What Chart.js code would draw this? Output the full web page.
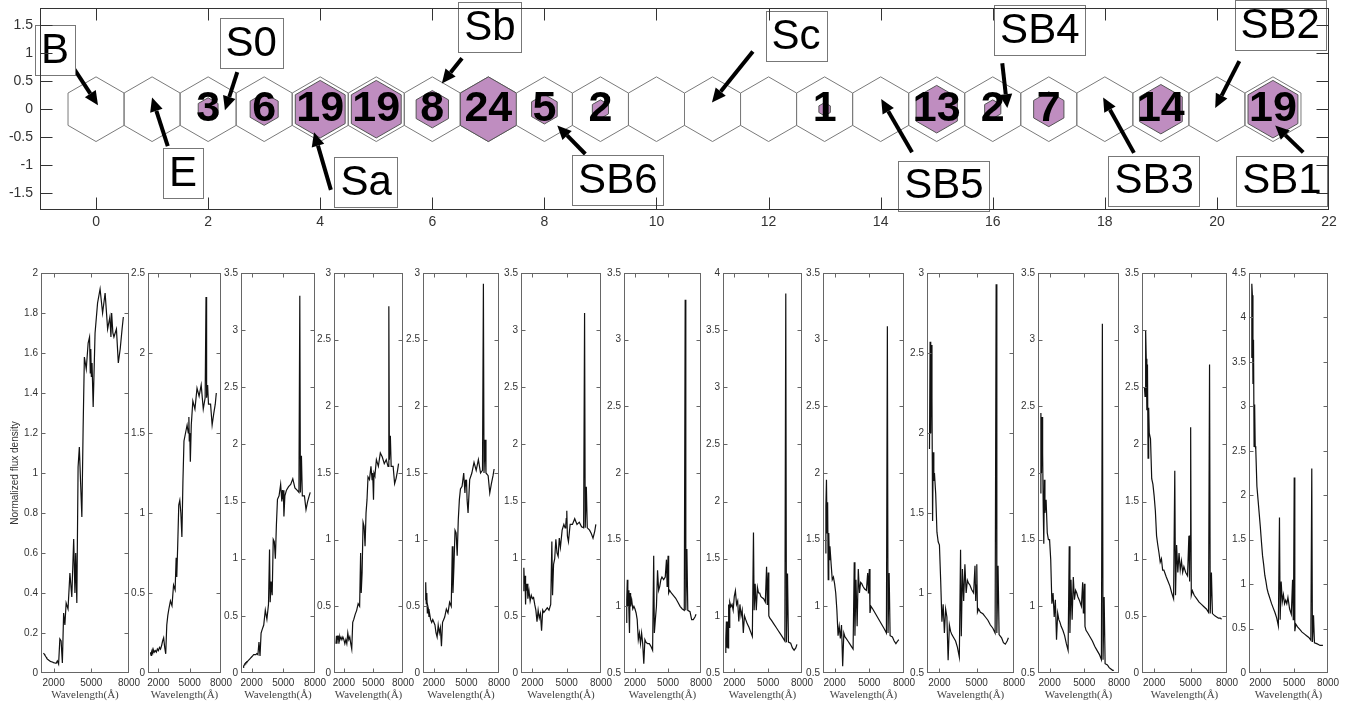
<!DOCTYPE html>
<html>
<head>
<meta charset="utf-8">
<script src="https://cdn.jsdelivr.net/npm/chart.js@4.4.0/dist/chart.umd.min.js"></script>
<style>
  body { margin: 0; background: #fff; width: 1353px; height: 704px; overflow: hidden; position: relative; }
  canvas { position: absolute; }
</style>
</head>
<body>
<canvas id="hexChart" width="1353" height="247" style="left:0;top:-7px"></canvas>
<script>
// ---- top panel: hexagon map ----
const hexX = [0, 1, 2, 3, 4, 5, 6, 7, 8, 9, 10, 11, 12, 13, 14, 15, 16, 17, 18, 19, 20, 21];
const hexCount = [0, 0, 3, 6, 19, 19, 8, 24, 5, 2, 0, 0, 0, 1, 0, 13, 2, 7, 0, 14, 0, 19];
const topXTicks = [0, 2, 4, 6, 8, 10, 12, 14, 16, 18, 20, 22];
const topYTicks = [-1.5, -1, -0.5, 0, 0.5, 1, 1.5];

// morphology labels (text centre, arrow tail, arrow head) in data units
const typeNames = ['B', 'E', 'S0', 'Sa', 'Sb', 'Sc', 'SB6', 'SB5', 'SB4', 'SB3', 'SB2', 'SB1'];
const typeTextX = [-0.73, 1.55, 2.77, 4.82, 7.03, 12.49, 9.31, 15.13, 16.84, 18.88, 21.13, 21.16];
const typeTextY = [1.05, -1.14, 1.18, -1.30, 1.46, 1.30, -1.27, -1.37, 1.41, -1.28, 1.50, -1.28];
const arrowTailX = [-0.43, 1.28, 2.52, 4.19, 6.53, 11.72, 8.73, 14.56, 16.17, 18.52, 20.40, 21.54];
const arrowTailY = [0.78, -0.66, 0.66, -1.44, 0.91, 1.03, -0.80, -0.77, 0.82, -0.78, 0.86, -0.77];
const arrowHeadX = [0.035, 1.0, 2.30, 3.89, 6.17, 10.99, 8.23, 14.01, 16.26, 17.97, 19.97, 21.04];
const arrowHeadY = [0.07, 0.21, -0.02, -0.41, 0.46, 0.12, -0.29, 0.18, 0.02, 0.21, 0.02, -0.29];

// ---- bottom panels: mean spectra ----
const wave = [1200, 1250, 1300, 1350, 1400, 1450, 1500, 1550, 1600, 1700,
  1800, 1900, 2000, 2100, 2200, 2300, 2400, 2500, 2600, 2700,
  2800, 2900, 3000, 3150, 3300, 3450, 3600, 3700, 3760, 3850,
  3950, 4050, 4150, 4250, 4350, 4450, 4600, 4750, 4861, 4920,
  4959, 5007, 5060, 5150, 5300, 5500, 5700, 5900, 6100, 6300,
  6480, 6563, 6620, 6717, 6800, 7000, 7150, 7300, 7450, 7550];

const spec1 = [0.1, 0.095, 0.09, 0.085, 0.08, 0.075, 0.07, 0.068, 0.065, 0.06,
  0.057, 0.055, 0.052, 0.05, 0.048, 0.06, 0.045, 0.17, 0.16, 0.05,
  0.3, 0.24, 0.35, 0.32, 0.5, 0.38, 0.67, 0.4, 0.6, 0.35,
  1.03, 1.13, 0.95, 0.78, 1.22, 1.58, 1.52, 1.65, 1.68, 1.5,
  1.62, 1.48, 1.55, 1.33, 1.7, 1.85, 1.92, 1.8, 1.9, 1.72,
  1.78, 1.68, 1.8, 1.7, 1.68, 1.72, 1.55, 1.62, 1.72, 1.78];
const spec2 = [0.12, 0.13, 0.11, 0.13, 0.12, 0.14, 0.13, 0.14, 0.13, 0.14,
  0.13, 0.15, 0.14, 0.16, 0.15, 0.17, 0.2, 0.22, 0.16, 0.12,
  0.3, 0.36, 0.4, 0.45, 0.42, 0.55, 0.52, 0.72, 0.6, 0.8,
  1.05, 1.08, 1.0, 0.85, 1.2, 1.45, 1.5, 1.55, 1.5, 1.6,
  1.45, 1.5, 1.32, 1.55, 1.7, 1.65, 1.78, 1.73, 1.8, 1.65,
  1.72, 2.35, 1.72, 1.8, 1.68, 1.68, 1.55, 1.62, 1.68, 1.75];
const spec3 = [0.05, 0.06, 0.07, 0.08, 0.08, 0.09, 0.09, 0.1, 0.1, 0.11,
  0.12, 0.13, 0.14, 0.15, 0.16, 0.16, 0.16, 0.17, 0.16, 0.27,
  0.15, 0.35, 0.38, 0.42, 0.55, 0.47, 0.6, 1.08, 0.62, 0.8,
  0.68, 1.17, 1.15, 1.0, 1.3, 1.52, 1.55, 1.65, 1.5, 1.6,
  1.52, 1.6, 1.37, 1.55, 1.6, 1.63, 1.65, 1.7, 1.62, 1.6,
  1.58, 3.3, 1.58, 1.9, 1.55, 1.55, 1.43, 1.5, 1.55, 1.58];
const spec4 = [0.22, 0.28, 0.22, 0.28, 0.25, 0.28, 0.22, 0.27, 0.25, 0.27,
  0.25, 0.27, 0.25, 0.22, 0.25, 0.22, 0.3, 0.25, 0.27, 0.22,
  0.18, 0.38, 0.4, 0.44, 0.47, 0.52, 0.5, 0.9, 0.6, 0.75,
  1.13, 1.1, 0.95, 1.2, 1.3, 1.47, 1.45, 1.55, 1.45, 1.5,
  1.42, 1.3, 1.5, 1.48, 1.6, 1.55, 1.65, 1.62, 1.57, 1.6,
  1.55, 2.75, 1.6, 1.78, 1.55, 1.55, 1.42, 1.46, 1.52, 1.57];
const spec5 = [0.55, 0.68, 0.52, 0.6, 0.45, 0.5, 0.48, 0.42, 0.45, 0.4,
  0.38, 0.4, 0.38, 0.36, 0.3, 0.27, 0.36, 0.3, 0.34, 0.2,
  0.38, 0.4, 0.42, 0.48, 0.45, 0.53, 0.5, 0.95, 0.6, 0.8,
  1.07, 1.05, 0.88, 1.15, 1.3, 1.38, 1.4, 1.5, 1.35, 1.45,
  1.4, 1.45, 1.3, 1.2, 1.45, 1.5, 1.58, 1.52, 1.6, 1.5,
  1.52, 2.92, 1.5, 1.75, 1.5, 1.48, 1.35, 1.42, 1.48, 1.53];
const spec6 = [0.72, 0.92, 0.78, 0.85, 0.6, 0.78, 0.72, 0.78, 0.65, 0.72,
  0.63, 0.68, 0.65, 0.66, 0.6, 0.55, 0.45, 0.55, 0.48, 0.52,
  0.37, 0.55, 0.53, 0.55, 0.57, 0.55, 0.6, 1.15, 0.68, 0.95,
  1.0, 1.17, 1.05, 1.02, 1.18, 1.1, 1.25, 1.3, 1.27, 1.3,
  1.35, 1.42, 1.2, 1.15, 1.3, 1.3, 1.35, 1.3, 1.32, 1.28,
  1.27, 3.15, 1.27, 1.63, 1.27, 1.25, 1.22, 1.18, 1.24, 1.3];
const spec7 = [0.88, 1.05, 1.2, 1.0, 1.12, 0.95, 0.8, 1.1, 1.0, 1.05,
  0.98, 1.0, 0.98, 0.95, 0.9, 0.75, 0.8, 0.72, 0.8, 0.72,
  0.57, 0.75, 0.73, 0.72, 0.72, 0.7, 0.67, 1.38, 0.8, 0.9,
  1.0, 1.27, 1.12, 1.15, 1.2, 1.22, 1.2, 1.22, 1.35, 1.15,
  1.25, 1.38, 1.1, 1.12, 1.1, 1.08, 1.06, 1.03, 1.0, 0.98,
  0.97, 3.3, 0.97, 1.43, 0.97, 0.96, 0.9, 0.9, 0.92, 0.94];
const spec8 = [0.68, 0.8, 0.95, 0.72, 0.95, 0.72, 1.1, 0.9, 1.12, 1.08,
  1.1, 1.05, 1.17, 1.22, 1.1, 1.13, 0.95, 1.1, 1.0, 1.05,
  0.85, 1.0, 0.97, 0.93, 0.9, 0.86, 0.82, 1.73, 1.05, 1.28,
  1.05, 1.25, 1.2, 1.2, 1.17, 1.16, 1.15, 1.12, 1.43, 1.1,
  1.25, 1.38, 1.0, 0.98, 0.96, 0.93, 0.9, 0.87, 0.84, 0.81,
  0.78, 3.82, 0.77, 1.37, 0.77, 0.76, 0.72, 0.7, 0.72, 0.75];
const spec9 = [1.4, 1.75, 1.95, 1.55, 1.78, 1.2, 1.55, 1.35, 1.45, 1.32,
  1.2, 1.22, 1.17, 1.1, 0.97, 0.78, 0.85, 0.76, 0.86, 0.55,
  0.8, 0.77, 0.76, 0.74, 0.72, 0.7, 0.68, 1.33, 0.78, 1.2,
  0.85, 1.28, 1.1, 1.18, 1.17, 1.15, 1.13, 1.12, 1.25, 1.1,
  1.2, 1.28, 0.95, 1.0, 0.98, 0.95, 0.92, 0.89, 0.86, 0.83,
  0.8, 3.1, 0.8, 1.25, 0.78, 0.77, 0.74, 0.72, 0.74, 0.75];
const spec10 = [1.9, 2.57, 2.0, 2.55, 2.22, 1.45, 1.88, 1.7, 1.75, 1.62,
  1.38, 1.32, 1.3, 1.08, 0.82, 0.93, 0.75, 0.9, 0.85, 0.58,
  0.8, 0.76, 0.74, 0.72, 0.7, 0.66, 0.6, 1.27, 0.73, 1.15,
  0.95, 1.18, 1.0, 1.08, 1.06, 1.05, 1.02, 1.0, 1.17, 0.95,
  1.05, 1.18, 0.88, 0.9, 0.88, 0.87, 0.85, 0.83, 0.8, 0.78,
  0.75, 2.93, 0.75, 1.17, 0.74, 0.72, 0.69, 0.68, 0.7, 0.72];
const spec11 = [1.85, 2.45, 2.0, 2.42, 2.15, 1.75, 1.47, 1.95, 1.7, 1.8,
  1.55, 1.5, 1.5, 1.35, 1.02, 1.1, 0.92, 1.05, 0.75, 0.95,
  0.9, 0.88, 0.85, 0.82, 0.78, 0.72, 0.67, 1.45, 0.8, 1.2,
  0.9, 1.22, 1.05, 1.12, 1.1, 1.07, 1.04, 1.0, 1.18, 0.95,
  1.05, 1.17, 0.85, 0.82, 0.8, 0.77, 0.74, 0.7, 0.67, 0.64,
  0.6, 3.12, 0.6, 1.07, 0.57, 0.56, 0.54, 0.53, 0.52, 0.52];
const spec12 = [2.5, 2.42, 3.0, 2.75, 2.3, 2.7, 1.88, 2.32, 2.1, 2.05,
  1.7, 1.65, 1.55, 1.42, 1.2, 1.12, 1.05, 0.97, 1.0, 0.9,
  0.9, 0.87, 0.84, 0.8, 0.76, 0.7, 0.65, 1.77, 0.68, 1.12,
  0.88, 1.05, 0.9, 0.98, 0.88, 0.93, 0.88, 0.85, 1.2, 0.8,
  1.2, 2.15, 0.68, 0.72, 0.68, 0.65, 0.62, 0.6, 0.58, 0.56,
  0.53, 2.7, 0.52, 0.88, 0.52, 0.5, 0.49, 0.48, 0.48, 0.47];
const spec13 = [3.55, 4.38, 4.25, 3.25, 3.75, 2.55, 3.02, 2.55, 2.52, 2.1,
  1.95, 1.8, 1.65, 1.48, 1.32, 1.22, 1.1, 1.03, 0.95, 0.9,
  0.86, 0.82, 0.78, 0.73, 0.68, 0.62, 0.53, 1.75, 0.6, 1.03,
  0.8, 0.88, 0.78, 0.82, 0.78, 0.85, 0.72, 0.66, 1.05, 0.6,
  1.07, 2.2, 0.47, 0.55, 0.52, 0.49, 0.46, 0.44, 0.42, 0.4,
  0.37, 2.3, 0.35, 0.65, 0.34, 0.33, 0.32, 0.31, 0.31, 0.31];

const spectra = [spec1, spec2, spec3, spec4, spec5, spec6, spec7, spec8, spec9, spec10, spec11, spec12, spec13];
const specYMin = [0, 0, 0, 0, 0, 0, 0.5, 0.5, 0.5, 0.5, 0.5, 0, 0];
const specYMax = [2, 2.5, 3.5, 3, 3, 3.5, 3.5, 4, 3.5, 3, 3.5, 3.5, 4.5];
const specYStep = [0.2, 0.5, 0.5, 0.5, 0.5, 0.5, 0.5, 0.5, 0.5, 0.5, 0.5, 0.5, 0.5];
const specXTicks = [2000, 5000, 8000];

// page layout of the small panels (plot-area edges, px)
const panelLeft = [41, 148, 241, 334, 423, 521, 624, 723, 823, 927, 1038, 1142, 1249];
const panelRight = [129, 221, 315, 403, 499, 601, 701, 802, 904, 1014, 1119, 1227, 1328];

const sans = "'Liberation Sans', Arial, Helvetica, sans-serif";
const serif = "'Liberation Serif', 'DejaVu Serif', serif";

function fmt(v) {
    return String(Math.round(v * 100) / 100);
}

// axes box with inward MATLAB style ticks
function makeFrame(len, color) {
    return {
        id: 'frame',
        afterDraw(chart) {
            const ctx = chart.ctx;
            const a = chart.chartArea;
            const x = chart.scales.x, y = chart.scales.y;
            ctx.save();
            ctx.strokeStyle = color;
            ctx.lineWidth = 1;
            const l = Math.round(a.left) + 0.5, r = Math.round(a.right) - 0.5;
            const t = Math.round(a.top) + 0.5, b = Math.round(a.bottom) - 0.5;
            ctx.strokeRect(l, t, r - l, b - t);
            ctx.beginPath();
            x.ticks.forEach(tk => {
                const px = Math.round(x.getPixelForValue(tk.value)) + 0.5;
                if (px <= l + 1 || px >= r - 1) return;
                ctx.moveTo(px, b); ctx.lineTo(px, b - len);
                ctx.moveTo(px, t); ctx.lineTo(px, t + len);
            });
            y.ticks.forEach(tk => {
                const py = Math.round(y.getPixelForValue(tk.value)) + 0.5;
                if (py <= t + 1 || py >= b - 1) return;
                ctx.moveTo(l, py); ctx.lineTo(l + len, py);
                ctx.moveTo(r, py); ctx.lineTo(r - len, py);
            });
            ctx.stroke();
            ctx.restore();
        }
    };
}

// hexagons, counts, labelled arrows
const hexLayer = {
    id: 'hexLayer',
    afterDatasetsDraw(chart) {
        const ctx = chart.ctx;
        const xs = chart.scales.x, ys = chart.scales.y;
        const meta = chart.getDatasetMeta(0);
        const R = 1 / Math.sqrt(3);
        const maxCount = Math.max(...hexCount);

        function hexPath(cx, cy, r) {
            ctx.beginPath();
            for (let k = 0; k < 6; k++) {
                const ang = Math.PI / 6 + k * Math.PI / 3;
                const px = xs.getPixelForValue(cx + r * Math.cos(ang));
                const py = ys.getPixelForValue(cy + r * Math.sin(ang));
                if (k === 0) ctx.moveTo(px, py); else ctx.lineTo(px, py);
            }
            ctx.closePath();
        }

        ctx.save();
        ctx.lineWidth = 1;
        hexX.forEach((hx, i) => {
            hexPath(hx, 0, R);
            ctx.strokeStyle = '#7a7a7a';
            ctx.stroke();
            if (hexCount[i] > 0) {
                hexPath(hx, 0, R * Math.sqrt(hexCount[i] / maxCount));
                ctx.fillStyle = '#bf8dc0';
                ctx.fill();
                ctx.strokeStyle = '#555';
                ctx.stroke();
            }
        });

        ctx.fillStyle = '#000';
        ctx.font = 'bold 43px ' + sans;
        ctx.textAlign = 'center';
        ctx.textBaseline = 'middle';
        meta.data.forEach((pt, i) => {
            if (hexCount[i] > 0) ctx.fillText(String(hexCount[i]), pt.x, pt.y);
        });

        // arrows
        ctx.strokeStyle = '#000';
        ctx.fillStyle = '#000';
        ctx.lineWidth = 4;
        typeNames.forEach((nm, i) => {
            const x0 = xs.getPixelForValue(arrowTailX[i]), y0 = ys.getPixelForValue(arrowTailY[i]);
            const x1 = xs.getPixelForValue(arrowHeadX[i]), y1 = ys.getPixelForValue(arrowHeadY[i]);
            const ang = Math.atan2(y1 - y0, x1 - x0);
            const hl = 14, hw = 6.5;
            const bx = x1 - hl * Math.cos(ang), by = y1 - hl * Math.sin(ang);
            ctx.beginPath();
            ctx.moveTo(x0, y0);
            ctx.lineTo(bx, by);
            ctx.stroke();
            ctx.beginPath();
            ctx.moveTo(x1, y1);
            ctx.lineTo(bx + hw * Math.sin(ang), by - hw * Math.cos(ang));
            ctx.lineTo(bx - hw * Math.sin(ang), by + hw * Math.cos(ang));
            ctx.closePath();
            ctx.fill();
        });

        // text boxes
        ctx.font = '42px ' + sans;
        ctx.lineWidth = 1;
        typeNames.forEach((nm, i) => {
            const cx = xs.getPixelForValue(typeTextX[i]), cy = ys.getPixelForValue(typeTextY[i]);
            const w = ctx.measureText(nm).width + 12, h = 50;
            ctx.fillStyle = '#fff';
            ctx.fillRect(cx - w / 2, cy - h / 2, w, h);
            ctx.strokeStyle = '#777';
            ctx.strokeRect(Math.round(cx - w / 2) + 0.5, Math.round(cy - h / 2) + 0.5, Math.round(w), h);
            ctx.fillStyle = '#000';
            ctx.fillText(nm, cx, cy + 1);
        });
        ctx.restore();
    }
};

new Chart(document.getElementById('hexChart'), {
    type: 'scatter',
    data: {
        datasets: [{
            data: hexX.map(v => ({ x: v, y: 0 })),
            pointRadius: 0,
            pointHoverRadius: 0
        }]
    },
    options: {
        responsive: false,
        animation: false,
        devicePixelRatio: 1,
        events: [],
        layout: { padding: { left: 0, right: 24, top: 8, bottom: 0 } },
        plugins: { legend: { display: false }, tooltip: { enabled: false } },
        scales: {
            x: {
                type: 'linear', min: -1, max: 22,
                afterFit: s => { s.height = 30; },
                afterBuildTicks: s => { s.ticks = topXTicks.map(v => ({ value: v })); },
                grid: { display: false, drawTicks: false },
                border: { display: false },
                ticks: { padding: 4, maxRotation: 0, color: '#333', font: { family: sans, size: 14 }, callback: v => fmt(v) }
            },
            y: {
                type: 'linear', min: -1.8, max: 1.8,
                afterFit: s => { s.width = 40; },
                afterBuildTicks: s => { s.ticks = topYTicks.map(v => ({ value: v })); },
                grid: { display: false, drawTicks: false },
                border: { display: false },
                ticks: { padding: 7, color: '#333', font: { family: sans, size: 14 }, callback: v => fmt(v) }
            }
        }
    },
    plugins: [hexLayer, makeFrame(12, '#333')]
});

// ---- the 13 spectra ----
spectra.forEach((flux, i) => {
    const padL = i === 0 ? 41 : 30;
    const padR = 16, padT = 10, padB = 31;
    const cv = document.createElement('canvas');
    cv.width = panelRight[i] - panelLeft[i] + padL + padR;
    cv.height = padT + 400 + padB;
    cv.style.left = (panelLeft[i] - padL) + 'px';
    cv.style.top = (273 - padT) + 'px';
    document.body.appendChild(cv);

    new Chart(cv, {
        type: 'line',
        data: {
            datasets: [{
                data: wave.map((w, k) => ({ x: w, y: flux[k] })),
                borderColor: '#111',
                borderWidth: 1.2,
                pointRadius: 0,
                tension: 0
            }]
        },
        options: {
            responsive: false,
            animation: false,
            devicePixelRatio: 1,
            events: [],
            layout: { padding: { left: 0, right: padR, top: padT, bottom: 0 } },
            plugins: { legend: { display: false }, tooltip: { enabled: false } },
            scales: {
                x: {
                    type: 'linear', min: 1000, max: 8000,
                    afterFit: s => { s.height = padB; },
                    afterBuildTicks: s => { s.ticks = specXTicks.map(v => ({ value: v })); },
                    grid: { display: false, drawTicks: false },
                    border: { display: false },
                    ticks: { padding: 4, maxRotation: 0, autoSkip: false, color: '#333', font: { family: sans, size: 10 }, callback: v => String(v) },
                    title: { display: true, text: 'Wavelength(Å)', color: '#444', font: { family: serif, size: 11 }, padding: { top: 0, bottom: 2 } }
                },
                y: {
                    type: 'linear', min: specYMin[i], max: specYMax[i],
                    afterFit: s => { s.width = padL; },
                    grid: { display: false, drawTicks: false },
                    border: { display: false },
                    ticks: { stepSize: specYStep[i], padding: 3, autoSkip: false, color: '#333', font: { family: sans, size: 10 }, callback: v => fmt(v) },
                    title: { display: i === 0, text: 'Normalized flux density', color: '#333', font: { family: sans, size: 10 }, padding: { top: 9, bottom: 0 } }
                }
            }
        },
        plugins: [makeFrame(4, '#666')]
    });
});
</script>
</body>
</html>
